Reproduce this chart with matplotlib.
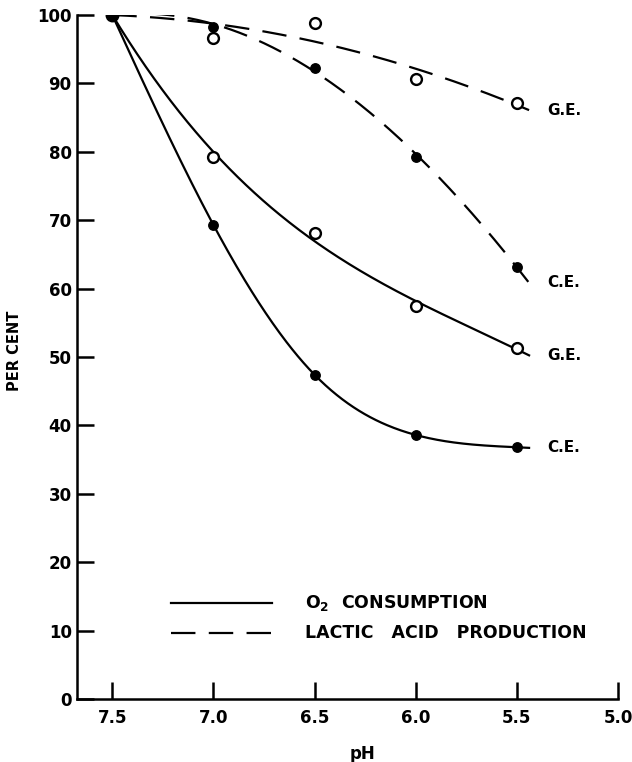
import numpy as np
import matplotlib
matplotlib.use("Agg")
import matplotlib.pyplot as plt

# ---- data ----
ph = [7.5, 7.0, 6.5, 6.0, 5.5]
o2_ce = [100, 69.3, 47.4, 38.6, 36.8]
o2_ge = [100, 79.2, 68.1, 57.4, 51.3]
lac_ce = [100, 98.3, 92.3, 79.3, 63.2]
lac_ge = [100, 96.6, 98.8, 90.7, 87.1]
x_ticks = [7.5, 7.0, 6.5, 6.0, 5.5, 5.0]
x_ticklabels = ["7.5", "7.0", "6.5", "6.0", "5.5", "5.0"]
y_ticks = [0, 10, 20, 30, 40, 50, 60, 70, 80, 90, 100]
curve_labels = ["G.E.", "C.E.", "G.E.", "C.E."]

plt.rcParams['font.family'] = ['DejaVu Sans']
fig = plt.figure(figsize=(6.32, 7.62), dpi=100)
ax = fig.add_axes([0.1223, 0.0827, 0.978 - 0.1223, 0.9803 - 0.0827])

x_end = 5.44
xfine = np.linspace(7.5, x_end, 300)


def natural_spline(xp, yp, xq):
    xp = np.asarray(xp, float)[::-1]
    yp = np.asarray(yp, float)[::-1]
    n = len(xp)
    h = np.diff(xp)
    A = np.zeros((n, n))
    r = np.zeros(n)
    A[0, 0] = 1
    A[-1, -1] = 1
    for i in range(1, n - 1):
        A[i, i - 1] = h[i - 1]
        A[i, i] = 2 * (h[i - 1] + h[i])
        A[i, i + 1] = h[i]
        r[i] = 6 * ((yp[i + 1] - yp[i]) / h[i] - (yp[i] - yp[i - 1]) / h[i - 1])
    M = np.linalg.solve(A, r)
    xq = np.asarray(xq, float)
    out = np.empty_like(xq)
    for j, xv in enumerate(xq):
        if xv < xp[0]:
            slope = (yp[1] - yp[0]) / h[0] - h[0] * (2 * M[0] + M[1]) / 6
            out[j] = yp[0] + slope * (xv - xp[0])
            continue
        k = int(np.clip(np.searchsorted(xp, xv) - 1, 0, n - 2))
        a = xp[k + 1] - xv
        b = xv - xp[k]
        out[j] = (M[k] * a**3 + M[k + 1] * b**3) / (6 * h[k]) \
            + (yp[k] / h[k] - M[k] * h[k] / 6) * a \
            + (yp[k + 1] / h[k] - M[k + 1] * h[k] / 6) * b
    return out


def fit(y, deg):
    w = np.array([20, 1, 1, 1, 1])
    c = np.polyfit(np.array(ph), np.array(y), deg, w=w)
    return np.polyval(c, xfine)

curves = [
    (fit(lac_ge, 2), 'dash'),
    (fit(lac_ce, 3), 'dash'),
    (fit(o2_ge, 3), 'solid'),
    (natural_spline(ph, o2_ce, xfine), 'solid'),
]

lw = 1.6
for yv, style in curves:
    if style == 'dash':
        ax.plot(xfine, yv, color='black', lw=lw, dashes=(11, 6), zorder=2)
    else:
        ax.plot(xfine, yv, color='black', lw=lw, zorder=2)

# markers
for y in (o2_ce, lac_ce):
    ax.plot(ph[1:], y[1:], 'o', color='black', ms=6.8, zorder=3, ls='none')
for y in (o2_ge, lac_ge):
    ax.plot(ph[1:], y[1:], 'o', mfc='white', mec='black', mew=1.7, ms=7.8, zorder=3, ls='none')
ax.plot([ph[0]], [o2_ce[0]], 'o', color='black', ms=9, zorder=4)

# curve end labels
for lab, (yv, _) in zip(curve_labels, curves):
    ax.text(5.35, yv[-1], lab, fontsize=11, fontweight='bold', va='center', ha='left')

ax.set_xlim(7.673, 5.0)
ax.set_ylim(0, 100)
ax.set_xticks(x_ticks)
ax.set_xticklabels(x_ticklabels)
ax.set_yticks(y_ticks)
for s in ('top', 'right'):
    ax.spines[s].set_visible(False)
for s in ('left', 'bottom'):
    ax.spines[s].set_linewidth(1.8)
ax.tick_params(direction='in', length=12, width=1.8, labelsize=12)
for lab in ax.get_xticklabels() + ax.get_yticklabels():
    lab.set_fontweight('bold')
ax.tick_params(axis='y', pad=4)
ax.tick_params(axis='x', pad=7)

ax.set_xlabel("pH", fontsize=12, fontweight='bold')
ax.xaxis.set_label_coords(0.5265, -0.067)
ax.set_ylabel("PER CENT", fontsize=10.5, fontweight='bold')
ax.yaxis.set_label_coords(-0.102, 0.509)

# legend
ax.plot([0.1727, 0.3595], [0.1408, 0.1408], color='black', lw=lw, transform=ax.transAxes, clip_on=False)
ax.plot([0.1727, 0.3595], [0.0961, 0.0961], color='black', lw=lw, dashes=(11, 6), transform=ax.transAxes, clip_on=False)
ax.text(0.421, 0.1408, r"O$_\mathbf{2}$  CONSUMPTION", fontsize=12.5, fontweight='bold', va='center', ha='left', transform=ax.transAxes)
ax.text(0.421, 0.0961, "LACTIC   ACID   PRODUCTION", fontsize=12.5, fontweight='bold', va='center', ha='left', transform=ax.transAxes)

fig.savefig("out.png", dpi=100)
